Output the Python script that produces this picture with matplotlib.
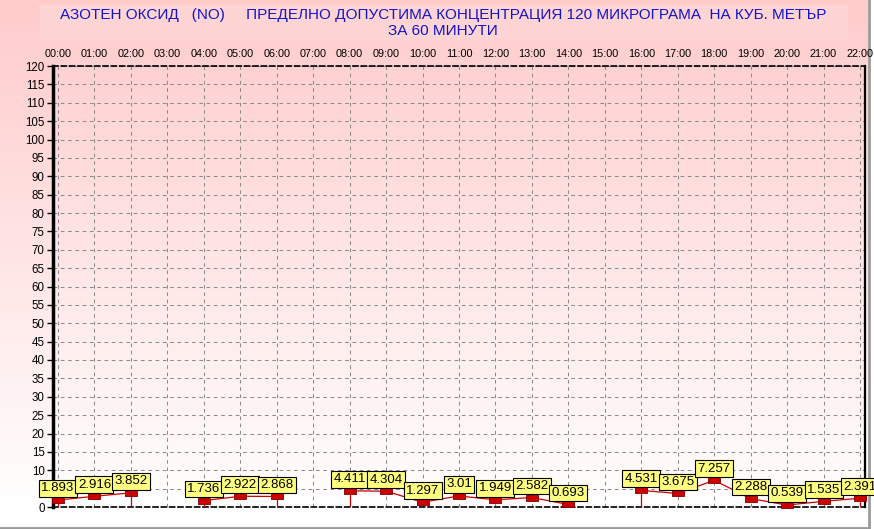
import numpy as np
import matplotlib
matplotlib.use("Agg")
import matplotlib.pyplot as plt
from matplotlib.patches import Rectangle
from matplotlib.lines import Line2D

plt.rcParams['font.family'] = ['Liberation Sans', 'DejaVu Sans']

# --- data (NaN = no measurement) ---
hours = list(range(23))
hour_labels = [f"{h:02d}:00" for h in hours]
values = [1.893, 2.916, 3.852, np.nan, 1.736, 2.922, 2.868, np.nan,
          4.411, 4.304, 1.297, 3.01, 1.949, 2.582, 0.693, np.nan,
          4.531, 3.675, 7.257, 2.288, 0.539, 1.535, 2.391]
value_labels = ["1.893", "2.916", "3.852", "", "1.736", "2.922", "2.868", "",
                "4.411", "4.304", "1.297", "3.01", "1.949", "2.582", "0.693", "",
                "4.531", "3.675", "7.257", "2.288", "0.539", "1.535", "2.391"]
y_ticks = list(range(0, 121, 5))
title = ("АЗОТЕН ОКСИД   (NO)     ПРЕДЕЛНО ДОПУСТИМА КОНЦЕНТРАЦИЯ 120 МИКРОГРАМА  НА КУБ. МЕТЪР\n"
         "ЗА 60 МИНУТИ")

W, H = 874, 529
fig = plt.figure(figsize=(W / 100, H / 100), dpi=100)
fig.patch.set_facecolor("white")

# background gradient pink -> white
bg = fig.add_axes([0, 0, 868 / W, 1], zorder=-10)
grad = np.ones((H, 1, 3))
top = np.array([255, 203, 203]) / 255
for i in range(H):
    if i < 508:
        f = i / 508
        grad[i, 0] = top * (1 - f) + np.array([1, 1, 1]) * f
bg.imshow(grad, aspect="auto", extent=[0, 1, 0, 1])
bg.set_axis_off()

# title box
fig.patches.append(Rectangle((40 / W, 1 - 40 / H), 808 / W, 35 / H,
                             transform=fig.transFigure, facecolor="#FFD4D4",
                             edgecolor="none", zorder=-5))
fig.text(443 / W, 1 - 23 / H, title, ha="center", va="center", color="#1414C8",
         fontsize=11, linespacing=1.15)

# window border
fig.add_artist(Line2D([0, 869 / W], [1.5 / H, 1.5 / H], transform=fig.transFigure,
                      color="#9A9A9A", lw=2, zorder=-1))
fig.add_artist(Line2D([869 / W, 869 / W], [1.5 / H, 1], transform=fig.transFigure,
                      color="#9A9A9A", lw=2, zorder=-1))

ax = fig.add_axes([53 / W, 22 / H, 812 / W, 441 / H])
ax.set_facecolor("none")
px = 812 / 22.274
ax.set_xlim(-5 / px, 22 + 5 / px)
ax.set_ylim(0, 120)

ax.set_xticks(hours)
ax.set_xticklabels(hour_labels, fontsize=7.8)
ax.xaxis.tick_top()
ax.tick_params(axis="x", length=0, pad=5)
ax.set_yticks(y_ticks)
ax.set_yticklabels([str(v) for v in y_ticks], fontsize=8.3)
ax.tick_params(axis="y", length=4, width=1, pad=2)

ax.grid(True, color="#8C8C8C", linestyle=(0, (3.5, 3.5)), lw=0.75)
ax.set_axisbelow(True)

for s in ["top", "bottom"]:
    ax.spines[s].set_linestyle((0, (3, 2)))
    ax.spines[s].set_linewidth(1.2)
ax.spines["left"].set_linewidth(2.5)
ax.spines["right"].set_linewidth(1.6)

vals = np.array(values, dtype=float)
red = "#CC0000"
ax.plot(hours, vals, color=red, lw=0.9, zorder=3, clip_on=False)
n = len(vals)
for i in range(n):
    if np.isnan(vals[i]):
        continue
    prev_gap = i == 0 or np.isnan(vals[i - 1])
    next_gap = i == n - 1 or np.isnan(vals[i + 1])
    if prev_gap or next_gap:
        ax.plot([hours[i], hours[i]], [0, vals[i]], color=red, lw=0.9, zorder=3)

rect = [(-1, -0.55), (1, -0.55), (1, 0.55), (-1, 0.55), (-1, -0.55)]
ax.plot(hours, vals, linestyle="none", marker=rect, markersize=8,
        markerfacecolor=red, markeredgecolor="#800000", markeredgewidth=0.6,
        zorder=4, clip_on=False)

for h, v, lab in zip(hours, vals, value_labels):
    if np.isnan(v):
        continue
    ax.annotate(lab, (h, v), xytext=(0, 4), textcoords="offset points",
                ha="center", va="bottom", fontsize=9.5, zorder=5,
                annotation_clip=False,
                bbox=dict(boxstyle="square,pad=0.18", facecolor="#FFFF80",
                          edgecolor="black", lw=0.8))

fig.savefig("out.png", dpi=100)
